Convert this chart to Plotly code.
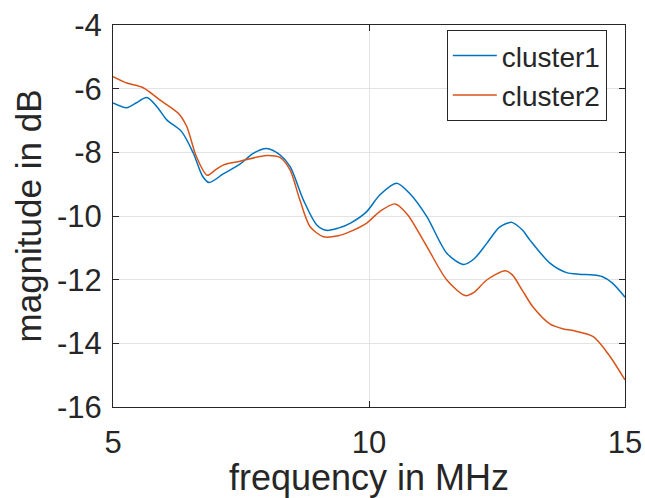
import plotly.graph_objects as go

freq1 = [5.0, 5.27, 5.45, 5.66, 5.85, 6.05, 6.34, 6.57, 6.75, 6.88, 7.15, 7.48, 7.74, 8.0, 8.26,
         8.46, 8.72, 8.98, 9.17, 9.4, 9.63, 9.95, 10.21, 10.54, 10.8, 11.13, 11.52, 11.84, 12.05,
         12.3, 12.55, 12.79, 13.0, 13.14, 13.54, 13.86, 14.1, 14.38, 14.55, 14.75, 15.0]
cluster1 = [-6.45, -6.6, -6.45, -6.28, -6.55, -6.98, -7.35, -8.03, -8.75, -8.95, -8.68, -8.37, -8.03,
            -7.88, -8.08, -8.45, -9.5, -10.28, -10.45, -10.38, -10.23, -9.87, -9.34, -8.97, -9.3,
            -10.02, -11.17, -11.52, -11.35, -10.86, -10.35, -10.2, -10.45, -10.75, -11.49, -11.78,
            -11.83, -11.85, -11.9, -12.1, -12.55]

freq2 = [5.0, 5.27, 5.59, 5.92, 6.28, 6.44, 6.63, 6.84, 7.0, 7.15, 7.48, 8.0, 8.26, 8.46, 8.65,
         8.85, 9.11, 9.4, 9.63, 9.95, 10.21, 10.51, 10.75, 11.13, 11.52, 11.88, 12.05, 12.3, 12.66,
         12.8, 13.0, 13.2, 13.54, 13.8, 13.99, 14.38, 14.71, 15.0]
cluster2 = [-5.62, -5.82, -5.97, -6.36, -6.78, -7.19, -8.14, -8.72, -8.55, -8.4, -8.28, -8.1, -8.16,
            -8.56, -9.5, -10.34, -10.65, -10.62, -10.49, -10.23, -9.86, -9.62, -9.95, -10.96, -12.01,
            -12.5, -12.4, -12.01, -11.72, -11.85, -12.35, -12.85, -13.4, -13.55, -13.6, -13.79,
            -14.42, -15.15]

xticks = [5, 10, 15]
yticks = [-4, -6, -8, -10, -12, -14, -16]

FONT = "Liberation Sans, Arial, sans-serif"
TXT = "#262626"

fig = go.Figure()
fig.add_trace(go.Scatter(x=freq1, y=cluster1, mode="lines", name="cluster1",
                         line=dict(color="#0072BD", width=1.5, shape="spline", smoothing=0.8)))
fig.add_trace(go.Scatter(x=freq2, y=cluster2, mode="lines", name="cluster2",
                         line=dict(color="#D95319", width=1.5, shape="spline", smoothing=0.8)))

axis_common = dict(showline=True, mirror="ticks", linecolor=TXT, linewidth=1,
                   ticks="inside", ticklen=6, tickcolor=TXT, showgrid=True,
                   gridcolor="#e3e3e3", gridwidth=1, zeroline=False, automargin=False,
                   tickfont=dict(family=FONT, size=31, color=TXT))

fig.update_layout(
    width=645, height=498,
    margin=dict(l=113, r=20, t=25, b=91),
    paper_bgcolor="white", plot_bgcolor="white",
    font=dict(family=FONT, color=TXT),
    xaxis=dict(range=[5, 15], tickvals=xticks, ticktext=[str(v) for v in xticks],
               ticklabelstandoff=8,
               title=dict(text="frequency in MHz", font=dict(family=FONT, size=36, color=TXT), standoff=5),
               **axis_common),
    yaxis=dict(range=[-16, -4], tickvals=yticks, ticktext=[str(v) for v in yticks],
               ticklabelstandoff=4,
               title=dict(text="magnitude in dB", font=dict(family=FONT, size=35, color=TXT), standoff=4),
               **axis_common),
    legend=dict(x=0.652, y=0.868, xanchor="left", yanchor="middle", bgcolor="white",
                bordercolor=TXT, borderwidth=1, font=dict(family=FONT, size=28, color=TXT),
                tracegroupgap=0, itemwidth=44),
    showlegend=True,
)

fig.write_html("out.html", config={"displayModeBar": False},
               post_script="document.body.style.margin='0';document.body.style.overflow='hidden';")
